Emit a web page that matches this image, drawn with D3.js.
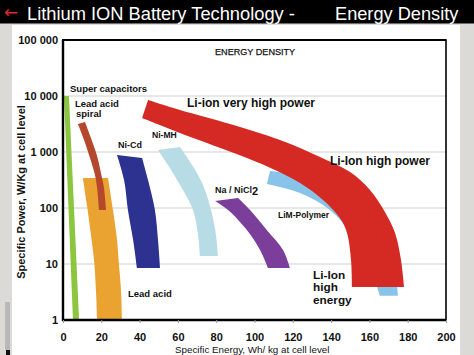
<!DOCTYPE html>
<html><head><meta charset="utf-8">
<script src="https://cdn.jsdelivr.net/npm/d3@7"></script>
<style>html,body{margin:0;padding:0;background:#dcdad7;} svg{display:block;}</style>
</head><body>
<svg id="c" width="474" height="355"></svg>
<script>
// ---- axis ticks ----
const xTicks = [0, 20, 40, 60, 80, 100, 120, 140, 160, 180, 200];
const yTicks = [1, 10, 100, 1000, 10000, 100000];
const yTickLabels = ["1", "10", "100", "1 000", "10 000", "100 000"];
const gridValues = [10, 100, 1000, 10000];

// ---- regions: [specific energy Wh/kg, specific power W/kg] along both edges ----
const superCapA = [[0.5, 10000], [5.2, 1]];
const superCapB = [[3.1, 10000], [8.4, 1]];

const leadAcidA = [[10.4, 343], [12.5, 113], [14.6, 33], [16.2, 11.8], [17.2, 3.4], [17.8, 1]];
const leadAcidB = [[23.5, 343], [26.1, 92], [28.2, 27], [29.2, 10], [30.3, 3.4], [30.8, 1]];

const spiralA = [[7.8, 3162], [11.0, 1638], [14.1, 781], [16.7, 388], [17.8, 228], [18.8, 92]];
const spiralB = [[11.5, 3433], [14.6, 1778], [17.8, 849], [19.8, 422], [21.4, 228], [22.5, 92]];

const niCdA = [[28.2, 884], [31.9, 316], [33.9, 92], [36.6, 27], [38.6, 8.5]];
const niCdB = [[41.3, 781], [44.4, 316], [48.0, 92], [49.6, 27], [50.7, 8.5]];

const niMHA = [[49.6, 1086], [54.8, 586], [61.1, 258], [67.9, 92], [70.5, 33], [71.5, 13.9]];
const niMHB = [[61.1, 1228], [67.4, 586], [73.1, 258], [77.3, 92], [79.9, 33], [80.9, 13.9]];

const naNiClA = [[79.4, 133], [86.2, 92], [96.1, 40], [102.9, 17.8], [107.0, 8.5]];
const naNiClB = [[91.4, 151], [97.7, 92], [106.5, 40], [114.9, 17.8], [118.5, 8.5]];

const polymerA = [[106.5, 268], [123.8, 185], [139.4, 92], [150.9, 33], [159.3, 10.9], [165.5, 2.7]];
const polymerB = [[108.1, 458], [123.8, 388], [139.4, 258], [155.1, 113], [168.1, 27], [173.4, 7.8], [174.9, 2.7]];

const liIonA = [[44.4, 8486], [61.1, 5623], [87.2, 3162], [113.3, 1638], [134.2, 815], [149.9, 439],
                [160.3, 210], [168.1, 85], [173.4, 35.8], [176.5, 11.8], [178.1, 3.9]];
const liIonB = [[41.3, 4047], [61.1, 2184], [96.1, 781], [110.7, 477], [123.8, 280], [135.8, 139],
                [144.6, 66], [148.3, 35.8], [150.4, 11.8], [150.9, 3.9]];

const regions = [
  {name: "Super capacitors", a: superCapA, b: superCapB, color: "#8cc63f"},
  {name: "Lead acid", a: leadAcidA, b: leadAcidB, color: "#eaa230"},
  {name: "Lead acid spiral", a: spiralA, b: spiralB, color: "#b5472c"},
  {name: "Ni-Cd", a: niCdA, b: niCdB, color: "#2d3190"},
  {name: "Ni-MH", a: niMHA, b: niMHB, color: "#b7dce6"},
  {name: "Na / NiCl2", a: naNiClA, b: naNiClB, color: "#7b3e9b"},
  {name: "LiM-Polymer", a: polymerA, b: polymerB, color: "#88c3ea"},
  {name: "Li-ion", a: liIonA, b: liIonB, color: "#d42a23"}
];

const svg = d3.select("#c");
const W = 474, H = 355;

// slide background
svg.append("rect").attr("x", 0).attr("y", 0).attr("width", W).attr("height", H).attr("fill", "#dcdad7");
svg.append("rect").attr("x", 12).attr("y", 25).attr("width", 448).attr("height", 330).attr("fill", "#ffffff");
svg.append("rect").attr("x", 5).attr("y", 302).attr("width", 5).attr("height", 48).attr("fill", "#b8b8b8");
svg.append("rect").attr("x", 6).attr("y", 350).attr("width", 4).attr("height", 5).attr("fill", "#111");

// header
svg.append("rect").attr("x", 0).attr("y", 0).attr("width", W).attr("height", 23.5).attr("fill", "#000");
svg.append("text").attr("x", 4).attr("y", 18).attr("fill", "#e3262a")
  .attr("font-family", "DejaVu Sans, sans-serif").attr("font-size", 17).text("←");
svg.append("text").attr("x", 27).attr("y", 19.5).attr("fill", "#fff")
  .attr("font-family", "Liberation Sans, Arial, sans-serif").attr("font-size", 18.3)
  .text("Lithium ION Battery Technology -");
svg.append("text").attr("x", 335).attr("y", 19.5).attr("fill", "#fff")
  .attr("font-family", "Liberation Sans, Arial, sans-serif").attr("font-size", 18.2)
  .text("Energy Density");

// scales
const x = d3.scaleLinear().domain([0, 200]).range([63, 446]);
const y = d3.scaleLog().domain([1, 100000]).range([320, 40]);

const font = "Liberation Sans, Arial, sans-serif";

// grid
svg.append("g").selectAll("line").data(gridValues).join("line")
  .attr("x1", x(0)).attr("x2", x(200))
  .attr("y1", d => y(d)).attr("y2", d => y(d))
  .attr("stroke", "#cfcfcf").attr("stroke-width", 1.2);

// bands
const lineGen = d3.line().x(d => x(d[0])).y(d => y(d[1])).curve(d3.curveCatmullRom.alpha(0.5));
function bandPath(a, b) {
  const pa = lineGen(a);
  const pb = lineGen(b.slice().reverse());
  return pa + "L" + pb.slice(1) + "Z";
}
svg.append("g").selectAll("path").data(regions).join("path")
  .attr("d", d => bandPath(d.a, d.b))
  .attr("fill", d => d.color);

// frame
svg.append("rect").attr("x", x(0)).attr("y", y(100000)).attr("width", x(200) - x(0)).attr("height", y(1) - y(100000))
  .attr("fill", "none").attr("stroke", "#000").attr("stroke-width", 1.6);
svg.append("line").attr("x1", x(0)).attr("x2", x(0)).attr("y1", y(100000)).attr("y2", y(1) + 1)
  .attr("stroke", "#000").attr("stroke-width", 2.4);
svg.append("line").attr("x1", x(0) - 1).attr("x2", x(200)).attr("y1", y(1)).attr("y2", y(1))
  .attr("stroke", "#000").attr("stroke-width", 2.4);
svg.append("line").attr("x1", x(0) - 1).attr("x2", x(200)).attr("y1", y(100000)).attr("y2", y(100000))
  .attr("stroke", "#000").attr("stroke-width", 2.2);

// axes (custom-styled from d3 axis generators)
const xAxis = svg.append("g").attr("transform", `translate(0,${y(1)})`)
  .call(d3.axisBottom(x).tickValues(xTicks).tickSize(3).tickPadding(10).tickFormat(d3.format("d")));
xAxis.select(".domain").remove();
xAxis.selectAll("line").attr("stroke", "#999");
xAxis.selectAll("text").attr("font-family", font).attr("font-size", 11).attr("font-weight", "bold").attr("fill", "#111");

const yAxis = svg.append("g").attr("transform", `translate(${x(0)},0)`)
  .call(d3.axisLeft(y).tickValues(yTicks).tickSize(0).tickPadding(5).tickFormat((d, i) => yTickLabels[i]));
yAxis.select(".domain").remove();
yAxis.selectAll("text").attr("font-family", font).attr("font-size", 11).attr("font-weight", "bold").attr("fill", "#111");

// axis titles
svg.append("text").attr("transform", "translate(25,192) rotate(-90)").attr("text-anchor", "middle")
  .attr("font-family", font).attr("font-size", 11).attr("font-weight", "bold").attr("fill", "#111")
  .text("Specific Power, W/Kg at cell level");
svg.append("text").attr("x", 175).attr("y", 352.5).attr("font-family", font).attr("font-size", 9.8).attr("fill", "#111")
  .text("Specific Energy, Wh/ kg at cell level");
svg.append("text").attr("x", 215).attr("y", 55).attr("font-family", font).attr("font-size", 9.1).attr("fill", "#111")
  .attr("stroke", "#111").attr("stroke-width", 0.25)
  .text("ENERGY DENSITY");

// region labels
function label(px, py, txt, size) {
  return svg.append("text").attr("x", px).attr("y", py).attr("font-family", font)
    .attr("font-size", size).attr("font-weight", "bold").attr("fill", "#111").text(txt);
}
label(70, 92, "Super capacitors", 9.5);
label(75, 107, "Lead acid", 9.5);
label(76, 117, "spiral", 9.5);
label(118, 148, "Ni-Cd", 9);
label(152, 138, "Ni-MH", 8.6);
label(187, 107, "Li-ion very high power", 12);
label(330, 165, "Li-Ion high power", 12);
const na = label(215, 193, "Na / NiCl", 9);
na.append("tspan").attr("font-size", 11).attr("dy", 2).text("2");
label(278, 218, "LiM-Polymer", 8.5);
label(313, 278.5, "Li-Ion", 11.8);
label(313, 291, "high", 11.8);
label(313, 303.5, "energy", 11.8);
label(128, 297, "Lead acid", 9.5);
</script>
</body></html>
